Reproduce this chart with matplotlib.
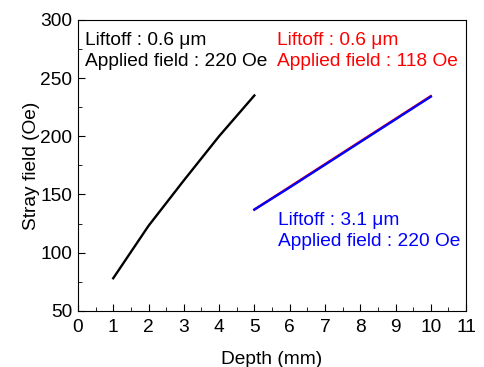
import numpy as np
import matplotlib
matplotlib.use('Agg')
import matplotlib.pyplot as plt
from matplotlib.ticker import MultipleLocator

plt.rcParams['font.family'] = ['Liberation Sans', 'DejaVu Sans']

# data
depth_a = [1, 2, 3, 4, 5]
field_a = [78, 123, 162, 200, 235]          # liftoff 0.6 um, 220 Oe
depth_b = [5, 6, 7, 8, 9, 10]
field_red = [137, 156.5, 176, 195.5, 215, 234.5]   # liftoff 0.6 um, 118 Oe
field_blue = [137, 156, 175.5, 195, 214.5, 234]    # liftoff 3.1 um, 220 Oe

fig = plt.figure(figsize=(4.84, 3.67), dpi=100)
ax = fig.add_axes([0.161, 0.153, 0.802, 0.793])

ax.plot(depth_a, field_a, color='black', lw=1.7)
ax.plot(depth_b, field_red, color='red', lw=1.7)
ax.plot(depth_b, field_blue, color='blue', lw=1.7)

fs = 13.8
ax.set_xlim(0, 11)
ax.set_ylim(50, 300)
ax.xaxis.set_major_locator(MultipleLocator(1))
ax.xaxis.set_minor_locator(MultipleLocator(0.5))
ax.yaxis.set_major_locator(MultipleLocator(50))
ax.yaxis.set_minor_locator(MultipleLocator(25))
ax.tick_params(which='both', direction='in', labelsize=fs)
ax.tick_params(axis='x', which='major', pad=6)
ax.tick_params(axis='y', which='major', pad=4)
ax.tick_params(which='major', length=5)
ax.tick_params(which='minor', length=3)

ax.set_xlabel('Depth (mm)', fontsize=fs, labelpad=11)
ax.set_ylabel('Stray field (Oe)', fontsize=fs, labelpad=0.5)

ax.text(0.2, 278.5, 'Liftoff : 0.6 \u03bcm', color='black', fontsize=fs)
ax.text(0.2, 260, 'Applied field : 220 Oe', color='black', fontsize=fs)
ax.text(5.63, 278.5, 'Liftoff : 0.6 \u03bcm', color='red', fontsize=fs)
ax.text(5.63, 260, 'Applied field : 118 Oe', color='red', fontsize=fs)
ax.text(5.66, 124, 'Liftoff : 3.1 \u03bcm', color='blue', fontsize=fs)
ax.text(5.66, 105.5, 'Applied field : 220 Oe', color='blue', fontsize=fs)

plt.savefig('out.png')
